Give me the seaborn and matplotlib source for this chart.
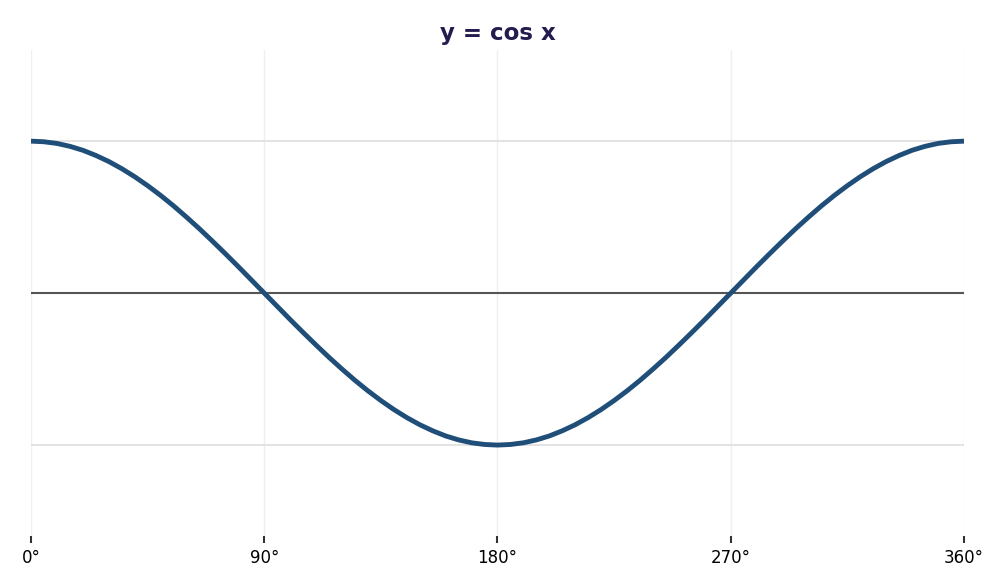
import matplotlib
matplotlib.use("Agg")
import matplotlib.pyplot as plt
import seaborn as sns
import pandas as pd

# angle in degrees, sampled every 5 degrees
angles = list(range(0, 361, 5))
cos_values = [
    1.000, 0.996, 0.985, 0.966, 0.940, 0.906, 0.866, 0.819, 0.766, 0.707,
    0.643, 0.574, 0.500, 0.423, 0.342, 0.259, 0.174, 0.087, 0.000,
    -0.087, -0.174, -0.259, -0.342, -0.423, -0.500, -0.574, -0.643, -0.707,
    -0.766, -0.819, -0.866, -0.906, -0.940, -0.966, -0.985, -0.996, -1.000,
    -0.996, -0.985, -0.966, -0.940, -0.906, -0.866, -0.819, -0.766, -0.707,
    -0.643, -0.574, -0.500, -0.423, -0.342, -0.259, -0.174, -0.087, 0.000,
    0.087, 0.174, 0.259, 0.342, 0.423, 0.500, 0.574, 0.643, 0.707,
    0.766, 0.819, 0.866, 0.906, 0.940, 0.966, 0.985, 0.996, 1.000,
]
tick_angles = [0, 90, 180, 270, 360]
tick_labels = ["0°", "90°", "180°", "270°", "360°"]
y_gridlines = [-1, 1]

df = pd.DataFrame({"angle": angles, "y": cos_values})

sns.set_style("white")
plt.rcParams["font.family"] = ["DejaVu Sans"]

fig, ax = plt.subplots(figsize=(10.08, 5.88), dpi=100)
fig.subplots_adjust(left=0.0308, right=0.9563, top=0.915, bottom=0.088)

# faint vertical grid at the tick positions
for t in tick_angles:
    ax.axvline(t, color="#efefef", linewidth=1, zorder=0)
# horizontal grid at +/-1 and the darker zero line
for g in y_gridlines:
    ax.axhline(g, color="#e0e0e0", linewidth=1.3, zorder=0)
ax.axhline(0, color="#555555", linewidth=1.5, zorder=1)

sns.lineplot(data=df, x="angle", y="y", color="#1f4e79", linewidth=3.5, ax=ax, zorder=3)

ax.set_xlim(0, 360)
ax.set_ylim(-1.6, 1.6)
ax.set_xticks(tick_angles)
ax.set_xticklabels(tick_labels, fontsize=12, color="black")
ax.set_yticks([])
ax.set_xlabel("")
ax.set_ylabel("")
ax.tick_params(axis="x", bottom=True, length=5, width=1.5, color="#333333", pad=4)
for s in ax.spines.values():
    s.set_visible(False)

ax.set_title("y = cos x", fontsize=16.5, fontweight="bold", color="#231d4f", pad=7.5)

fig.savefig("out.png", dpi=100)
